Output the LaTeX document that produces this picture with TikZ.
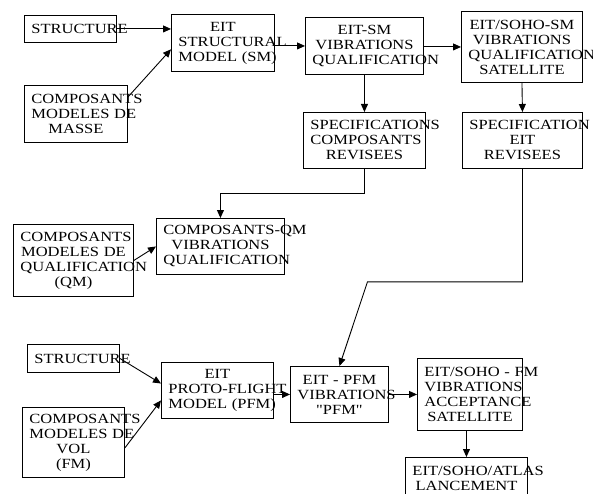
\documentclass[tikz,border=0pt]{standalone}
\usepackage{fontspec}
\setmainfont{Liberation Serif}[FakeStretch=1.18]
\newfontfamily\plainserif{Liberation Serif}[FakeStretch=1.18]
\usepackage{tikz}
\usetikzlibrary{arrows.meta}
\hyphenpenalty=10000
\exhyphenpenalty=10000

\begin{document}
\begin{tikzpicture}[x=1pt, y=-1pt, line width=0.9pt, >={Triangle[length=8pt,width=7pt]},
    blk/.style 2 args={draw, anchor=north west, text width=#1, minimum height=#2,
        inner xsep=7pt, inner ysep=0pt, align=center, font=\fontsize{14}{15}\selectfont}]
            \useasboundingbox (0,0) rectangle (593,494);

            % Top row - structural model
            \node[blk={78}{27}] (str1) at (24,15) {STRUCTURE};
            \node[blk={89}{57}] (esm) at (171,14) {EIT\\STRUCTURAL\\MODEL~(SM)};
            \node[blk={89}{57}] (mas) at (24,85) {COMPOSANTS\\MODELES~DE\\MASSE};
            \node[blk={104}{57}] (smvib) at (305,17) {EIT-SM\\VIBRATIONS\\QUALIFICATION};
            \node[blk={107}{71}] (smsat) at (461,11) {EIT/SOHO-SM\\VIBRATIONS\\QUALIFICATION\\SATELLITE};

            % Revised specifications
            \node[blk={108}{56}] (speccmp) at (303,112) {SPECIFICATIONS\\COMPOSANTS\\REVISEES};
            \node[blk={106}{56}] (speceit) at (462,112) {SPECIFICATION\\EIT\\REVISEES};

            % Qualification models
            \node[blk={106}{72}] (cqm) at (13,224) {COMPOSANTS\\MODELES~DE\\QUALIFICATION\\(QM)};
            \node[blk={114}{56}] (qmvib) at (156,218) {COMPOSANTS-QM\\VIBRATIONS\\QUALIFICATION};

            % Bottom row - flight models
            \node[blk={78}{28}] (str2) at (27,344) {STRUCTURE};
            \node[blk={88}{70}] (cfm) at (22,407) {COMPOSANTS\\MODELES~DE\\VOL\\(FM)};
            \node[blk={98}{56}] (epfm) at (161,362) {EIT\\PROTO-FLIGHT\\MODEL~(PFM)};
            \node[blk={84}{56}] (pfmvib) at (290,366) {EIT~-~PFM\\VIBRATIONS\\{\plainserif"PFM"}};
            \node[blk={91}{72}] (fmsat) at (417,358) {EIT/SOHO~-~FM\\VIBRATIONS\\ACCEPTANCE\\SATELLITE};
            \node[blk={108}{42}] (launch) at (405,457) {EIT/SOHO/ATLAS\\LANCEMENT};

            % Arrows
            \draw[->] (str1.east) -- (esm.west |- str1.east);
            \draw[->] (mas.18) -- (esm.187);
            \draw[->] (esm.east |- smvib.west) -- (smvib.west);
            \draw[->] (smvib.east |- smsat.west) -- (smsat.west);
            \draw[->] (smvib.south) -- (speccmp.north);
            \draw[->] (smsat.south) -- (speceit.north);
            \draw[->] (speccmp.south) -- ++(0,25) -| (qmvib.north);
            \draw[->] (cqm.east) -- (qmvib.west);
            \draw[->] (speceit.south) -- ++(0,113) -- ++(-155,0) -- (pfmvib.north);
            \draw[->] (str2.east) -- (epfm.173);
            \draw[->] (cfm.-6) -- (epfm.190);
            \draw[->] (epfm.east |- pfmvib.west) -- (pfmvib.west);
            \draw[->] (pfmvib.east) -- (fmsat.west |- pfmvib.east);
            \draw[->] (fmsat.south -| launch.north) -- (launch.north);
        \end{tikzpicture}
\end{document}
